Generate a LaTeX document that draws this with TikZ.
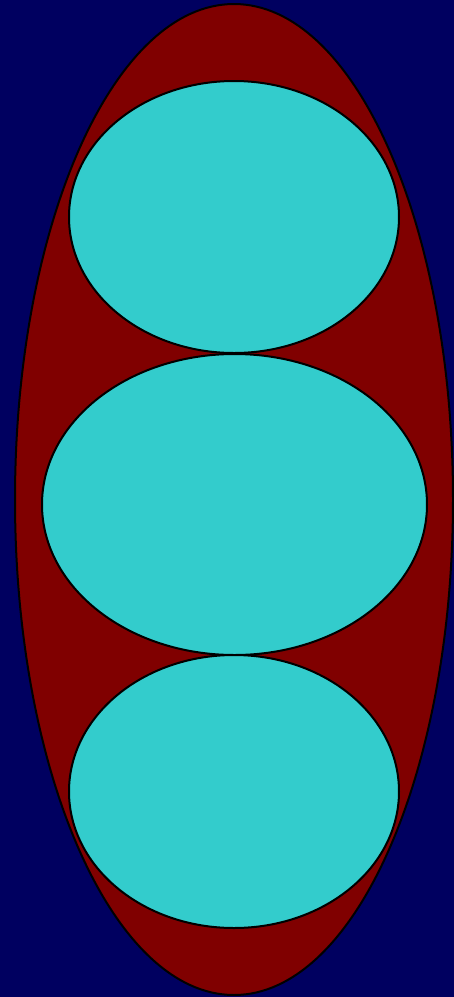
\documentclass[tikz,border=0pt]{standalone}
\definecolor{bgnavy}{RGB}{0,0,96}
\definecolor{podred}{RGB}{128,0,0}
\definecolor{seedcyan}{RGB}{51,204,204}
\tikzset{
  shell/.style={draw=black, line width=2pt},
}
\begin{document}
\begin{tikzpicture}[x=1pt,y=-1pt]
\fill[bgnavy] (0,0) rectangle (454,997);
\useasboundingbox (0,0) rectangle (454,997);
\draw[shell, fill=podred] (234,499.5) ellipse [x radius=219, y radius=495.5];
\draw[shell, fill=seedcyan] (234,217) ellipse [x radius=165, y radius=136];
\draw[shell, fill=seedcyan] (234.5,504.5) ellipse [x radius=192.5, y radius=150.5];
\draw[shell, fill=seedcyan] (234,791.5) ellipse [x radius=165, y radius=136.5];
\end{tikzpicture}
\end{document}
